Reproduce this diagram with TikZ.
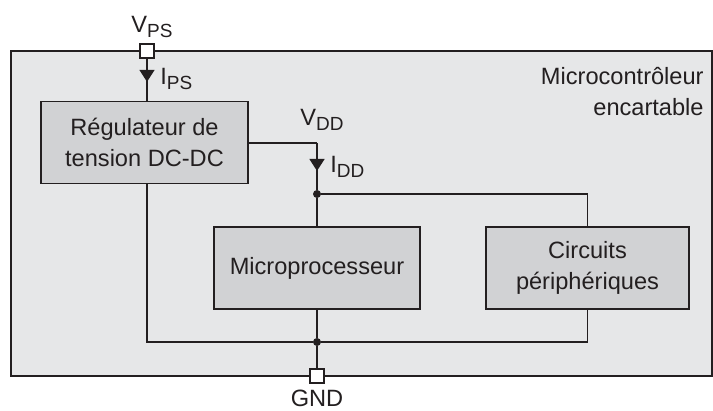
\documentclass[tikz,border=0pt]{standalone}
\usepackage{fontspec}
\setmainfont{Liberation Sans}
\usetikzlibrary{arrows.meta,decorations.markings}

\definecolor{boardgray}{HTML}{E6E7E8}
\definecolor{blockgray}{HTML}{D1D2D4}
\definecolor{inkgray}{HTML}{231F20}

\newcommand{\lowidx}[1]{\raisebox{-0.45ex}{\fontsize{9.5}{9.5}\selectfont #1}}

\tikzstyle{unit_box} = [rectangle, draw=inkgray, fill=blockgray, line width=0.75pt, text=inkgray, align=center, minimum height=41pt]
\tikzstyle{pin_node} = [rectangle, draw=inkgray, fill=white, line width=0.75pt, minimum size=7pt, inner sep=0pt]
\tikzstyle{dot_node} = [circle, fill=inkgray, minimum size=4pt, inner sep=0pt]
\tikzstyle{wire} = [draw=inkgray, line width=0.75pt]
\tikzstyle{current} = [postaction={decorate}, decoration={markings, mark=at position #1 with {\arrow{Triangle[width=7.5pt, length=6pt]}}}]
\tikzstyle{label_node} = [text=inkgray, inner sep=0pt]

\begin{document}
\begin{tikzpicture}[x=0.5pt, y=-0.5pt, font=\fontsize{11.8}{15.5}\selectfont]
    \useasboundingbox (0,0) rectangle (713,411);
    \filldraw [fill=boardgray, draw=inkgray, line width=1pt] (11,51) rectangle (712,376);

    \node (board) [label_node, align=right, anchor=north east] at (704,67) {Microcontrôleur\\encartable};

    \node (reg)   [unit_box, minimum width=103.5pt] at (144.5,142.5) {Régulateur de\\tension DC-DC};
    \node (mpu)   [unit_box, minimum width=103pt] at (317,268) {Microprocesseur};
    \node (circ)  [unit_box, minimum width=101.5pt] at (587.5,268) {Circuits\\périphériques};

    \node (vps)   [pin_node] at (147,51) {};
    \node (gnd)   [pin_node] at (317,376) {};
    \node (jdd)   [dot_node] at (317,194) {};
    \node (jgnd)  [dot_node] at (317,342) {};
    \coordinate (vdd) at (317,143);

    \draw [wire, current=0.55] (vps) -- (reg.north -| vps);
    \draw [wire] (reg.east |- vdd) -- (vdd);
    \draw [wire, current=0.6] (vdd) -- (jdd);
    \draw [wire] (jdd) -- (mpu);
    \draw [wire] (jdd) -| (circ);
    \draw [wire] (reg.south -| vps) |- (jgnd);
    \draw [wire] (jgnd) -| (circ);
    \draw [wire] (mpu) -- (jgnd);
    \draw [wire] (jgnd) -- (gnd);

    \node (vpslbl) [label_node] at (152,27) {V\lowidx{PS}};
    \node (ipslbl) [label_node, anchor=west] at (160,79) {I\lowidx{PS}};
    \node (vddlbl) [label_node] at (322,120) {V\lowidx{DD}};
    \node (iddlbl) [label_node, anchor=west] at (330,167) {I\lowidx{DD}};
    \node (gndlbl) [label_node] at (317,398) {GND};
\end{tikzpicture}
\end{document}
